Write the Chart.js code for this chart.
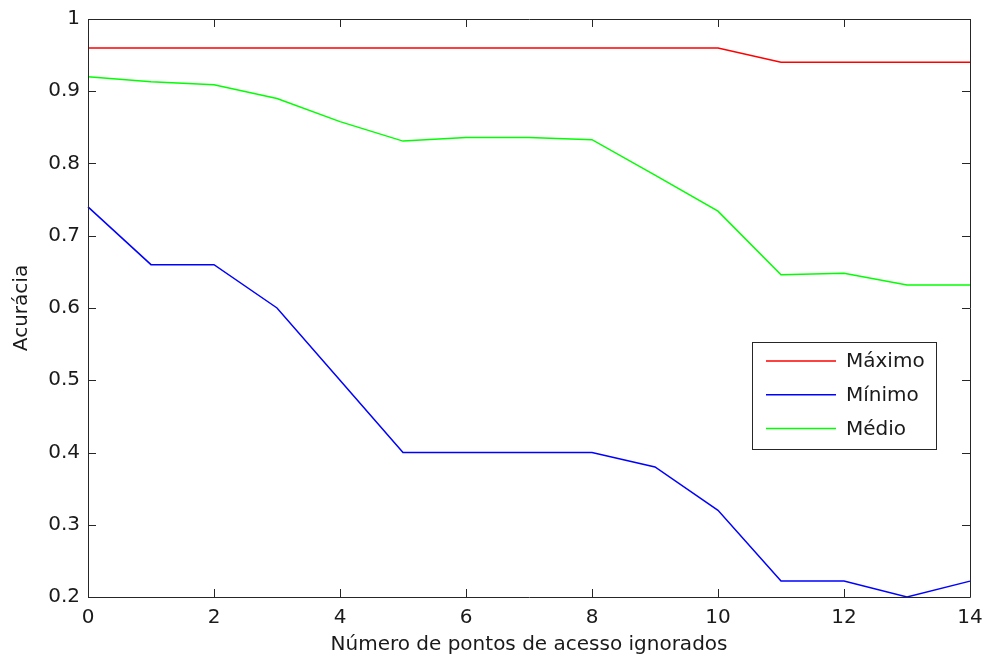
<!DOCTYPE html>
<html>
<head>
<meta charset="utf-8">
<script src="https://cdn.jsdelivr.net/npm/chart.js@4"></script>
<style>
  html, body { margin: 0; padding: 0; background: #fff; }
  #wrap { width: 984px; height: 658px; }
</style>
</head>
<body>
<div id="wrap"><canvas id="accChart" width="984" height="658"></canvas></div>
<script>
// data
const pontosIgnorados = [0, 1, 2, 3, 4, 5, 6, 7, 8, 9, 10, 11, 12, 13, 14];
const maximo = [0.96, 0.96, 0.96, 0.96, 0.96, 0.96, 0.96, 0.96, 0.96, 0.96, 0.96, 0.94, 0.94, 0.94, 0.94];
const minimo = [0.74, 0.66, 0.66, 0.60, 0.50, 0.40, 0.40, 0.40, 0.40, 0.38, 0.32, 0.222, 0.222, 0.20, 0.222];
const medio  = [0.92, 0.913, 0.909, 0.89, 0.858, 0.831, 0.836, 0.836, 0.833, 0.784, 0.734, 0.646, 0.648, 0.632, 0.632];
const seriesNames = ['Máximo', 'Mínimo', 'Médio'];
const xTitle = 'Número de pontos de acesso ignorados';
const yTitle = 'Acurácia';

const FONT = 'DejaVu Sans';
const INK = '#1a1a1a';
Chart.defaults.font.family = FONT;
Chart.defaults.color = INK;

function toPoints(arr) {
  return arr.map((v, i) => ({ x: pontosIgnorados[i], y: v }));
}

// matlab-like box with inward ticks on all four sides
const frameTicks = {
  id: 'frameTicks',
  afterDatasetsDraw(chart) {
    const { ctx, chartArea: a, scales } = chart;
    const len = 8;
    ctx.save();
    ctx.strokeStyle = '#262626';
    ctx.lineWidth = 1;
    ctx.beginPath();
    ctx.rect(Math.round(a.left) + 0.5, Math.round(a.top) + 0.5,
             Math.round(a.right - a.left), Math.round(a.bottom - a.top));
    scales.x.ticks.forEach(t => {
      const px = Math.round(scales.x.getPixelForValue(t.value)) + 0.5;
      ctx.moveTo(px, a.bottom); ctx.lineTo(px, a.bottom - len);
      ctx.moveTo(px, a.top); ctx.lineTo(px, a.top + len);
    });
    scales.y.ticks.forEach(t => {
      const py = Math.round(scales.y.getPixelForValue(t.value)) + 0.5;
      ctx.moveTo(a.left, py); ctx.lineTo(a.left + len, py);
      ctx.moveTo(a.right, py); ctx.lineTo(a.right - len, py);
    });
    ctx.stroke();
    ctx.restore();
  }
};

// legend box inside the axes
const boxLegend = {
  id: 'boxLegend',
  afterDraw(chart) {
    const { ctx } = chart;
    const x0 = 752.5, y0 = 342.5, w = 184, h = 107;
    ctx.save();
    ctx.fillStyle = '#fff';
    ctx.fillRect(x0, y0, w, h);
    ctx.strokeStyle = '#262626';
    ctx.lineWidth = 1;
    ctx.strokeRect(x0, y0, w, h);
    ctx.font = '20px "' + FONT + '"';
    ctx.textBaseline = 'middle';
    chart.data.datasets.forEach((ds, i) => {
      const y = 361 + i * 33.7;
      ctx.strokeStyle = ds.borderColor;
      ctx.lineWidth = 1.5;
      ctx.beginPath();
      ctx.moveTo(766, y); ctx.lineTo(836, y);
      ctx.stroke();
      ctx.fillStyle = INK;
      ctx.fillText(ds.label, 846, y + 1);
    });
    ctx.restore();
  }
};

const ctx = document.getElementById('accChart');
new Chart(ctx, {
  type: 'line',
  data: {
    datasets: [
      { label: seriesNames[0], data: toPoints(maximo), borderColor: '#ff0000' },
      { label: seriesNames[1], data: toPoints(minimo), borderColor: '#0000ff' },
      { label: seriesNames[2], data: toPoints(medio),  borderColor: '#00ff00' }
    ]
  },
  options: {
    responsive: false,
    animation: false,
    clip: false,
    elements: {
      point: { radius: 0 },
      line: { borderWidth: 1.5, tension: 0 }
    },
    layout: { padding: { top: 19, right: 14, left: 0, bottom: 0 } },
    plugins: {
      legend: { display: false },
      tooltip: { enabled: false }
    },
    scales: {
      x: {
        type: 'linear',
        min: 0, max: 14,
        grid: { display: false, drawTicks: false },
        border: { display: false },
        ticks: { stepSize: 2, padding: 9, font: { size: 20 }, color: INK, maxRotation: 0 },
        title: { display: true, text: xTitle, font: { size: 20 }, color: INK, padding: { top: 0, bottom: 1 } },
        afterFit(scale) {
          scale.height = 61;
          scale.paddingLeft = 0;
          scale.paddingRight = 0;
        }
      },
      y: {
        min: 0.2, max: 1,
        grid: { display: false, drawTicks: false },
        border: { display: false },
        ticks: {
          stepSize: 0.1, padding: 8, font: { size: 20 }, color: INK,
          callback: v => (Math.abs(v - 1) < 1e-9 ? '1' : v.toFixed(1))
        },
        title: { display: true, text: yTitle, font: { size: 20 }, color: INK, padding: { top: 10, bottom: 0 } },
        afterFit(scale) {
          scale.width = 88;
          scale.paddingTop = 0;
          scale.paddingBottom = 0;
        }
      }
    }
  },
  plugins: [frameTicks, boxLegend]
});
</script>
</body>
</html>
